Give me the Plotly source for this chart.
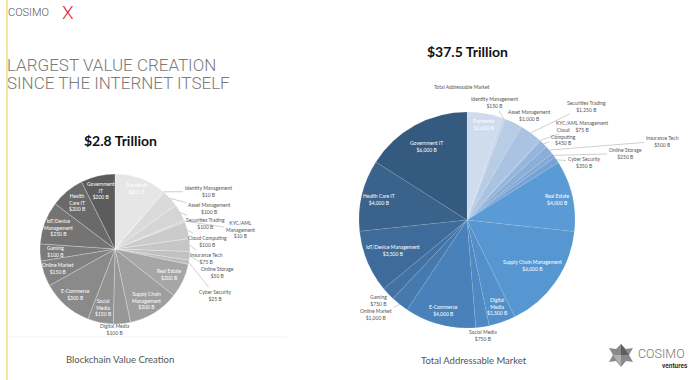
import math
import plotly.graph_objects as go

# ---------------- data ----------------
categories = ["Payments", "Identity Management", "Asset Management", "Securities Trading",
              "KYC/AML Management", "Cloud Computing", "Insurance Tech", "Online Storage",
              "Cyber Security", "Real Estate", "Supply Chain Management", "Digital Media",
              "Social Media", "E-Commerce", "Online Market", "Gaming",
              "IoT/Device Management", "Health Care IT", "Government IT"]

blockchain_values = [300, 10, 100, 100, 10, 100, 75, 50, 25, 200, 300, 100, 150, 300, 150, 100, 250, 200, 200]
tam_values = [2000, 150, 1000, 1250, 75, 450, 500, 250, 350, 4000, 6000, 1500, 750, 4000, 1000, 750, 3500, 4000, 6000]

blockchain_text = ["Payments", "Identity Management", "Asset Management", "Securities Trading",
                   "KYC/AML<br>Management", "Cloud Computing", "Insurance Tech", "Online Storage",
                   "Cyber Security", "Real Estate", "Supply Chain<br>Management", "Digital Media",
                   "Social<br>Media", "E-Commerce", "Online Market", "Gaming",
                   "IoT/Device<br>Management", "Health<br>Care IT", "Government<br>IT"]
tam_text = ["Payments", "Identity Management", "Asset Management", "Securities Trading",
            "KYC/AML Management", "Cloud<br>Computing", "Insurance Tech", "Online Storage",
            "Cyber Security", "Real Estate", "Supply Chain Management", "Digital<br>Media",
            "Social Media", "E-Commerce", "Online Market", "Gaming",
            "IoT/Device Management", "Health Care IT", "Government IT"]

# label placement: float = inside slice at that fraction of the radius,
# (x, y) px = outside label position joined to the slice by a leader line
blockchain_label_pos = [0.86, (208, 191.5), (209, 208.5), (205, 223.5), (240, 229.5), (208, 241),
                        (206, 258), (217, 272), (215, 295), 0.8, 0.8, (115, 329),
                        0.8, 0.8, 0.8, 0.8, 0.8, 0.8, 0.8]
tam_label_pos = [0.9, (494, 103), (529, 115), (586, 106), (582, 126), (563, 137),
                 (662, 141), (625, 153.5), (584, 162), 0.86, 0.74, 0.85,
                 (483, 335), 0.87, (376, 314.5), (378, 300), 0.74, 0.84, 0.78]

grey_colors = ["#e6e6e6", "#e0e0e0", "#dadada", "#d5d5d5", "#d0d0d0", "#cbcbcb", "#c6c6c6", "#c1c1c1",
               "#bcbcbc", "#a6a6a6", "#9e9e9e", "#979797", "#919191", "#8a8a8a", "#828282", "#7b7b7b",
               "#747474", "#6a6a6a", "#5c5c5c"]
blue_colors = ["#cfdcee", "#c5d5ea", "#b8cce6", "#abc3e2", "#a0bcdf", "#95b5dc", "#8baed9", "#81a8d7",
               "#76a2d6", "#5b9bd5", "#5797d1", "#538fc8", "#4f89c1", "#4982bb", "#4679ad", "#4272a3",
               "#3e6b99", "#3a638c", "#355a7f"]

W, H = 700, 380
def px(x): return x / W
def py(y): return 1 - y / H

# pie domains in px: (left, top, size)
left_dom = (40, 174, 150)
right_dom = (359, 112, 216)

fig = go.Figure()
ann = []

def add_pie(values, colors, dom, line_col, line_w):
    x0, y0, s = dom
    fig.add_trace(go.Pie(
        labels=categories, values=values, textinfo="none",
        sort=False, direction="clockwise", rotation=0,
        marker=dict(colors=colors, line=dict(color=line_col, width=line_w)),
        domain=dict(x=[px(x0), px(x0 + s)], y=[py(y0 + s), py(y0)]),
        showlegend=False, hoverinfo="label+value"))

def add_labels(values, texts, label_pos, dom):
    x0, y0, s = dom
    cx, cy, r = x0 + s / 2, y0 + s / 2, s / 2
    total = sum(values)
    cum = 0
    for v, t, pos in zip(values, texts, label_pos):
        mid = 2 * math.pi * (cum + v / 2) / total
        cum += v
        s_txt = "%s<br>$%s B" % (t, format(v, ","))
        if not isinstance(pos, tuple):
            lx = cx + pos * r * math.sin(mid)
            ly = cy - pos * r * math.cos(mid)
            ann.append(dict(x=px(lx), y=py(ly), xref="paper", yref="paper", text=s_txt,
                            showarrow=False, xanchor="center", yanchor="middle",
                            font=dict(family="Lato", size=5, color="white")))
        else:
            hx = cx + r * math.sin(mid)
            hy = cy - r * math.cos(mid)
            ann.append(dict(x=px(hx), y=py(hy), xref="paper", yref="paper", text=s_txt,
                            showarrow=True, arrowhead=0, arrowwidth=0.5, arrowcolor="#a0a0a0",
                            standoff=0, ax=pos[0] - hx, ay=pos[1] - hy,
                            xanchor="center", yanchor="middle",
                            font=dict(family="Lato", size=5, color="#555555")))

add_pie(blockchain_values, grey_colors, left_dom, "rgba(255,255,255,0.5)", 0.5)
add_pie(tam_values, blue_colors, right_dom, "rgba(255,255,255,0.3)", 0.3)
add_labels(blockchain_values, blockchain_text, blockchain_label_pos, left_dom)
add_labels(tam_values, tam_text, tam_label_pos, right_dom)

def txt(x, y, s, size, color, family="Lato", xanchor="center", weight=None):
    f = dict(family=family, size=size, color=color)
    if weight is not None:
        f["weight"] = weight
    ann.append(dict(x=px(x), y=py(y), xref="paper", yref="paper", text=s, showarrow=False,
                    xanchor=xanchor, yanchor="middle", font=f))

txt(6, 13, "COSIMO", 11, "#555555", family="Roboto", xanchor="left", weight=300)
txt(60, 12.5, "X", 19, "#e8242a", family="Roboto", xanchor="left", weight=300)
txt(5, 64.5, "LARGEST VALUE CREATION", 17, "#7a7a7a", family="Roboto", xanchor="left", weight=300)
txt(5, 83, "SINCE THE INTERNET ITSELF", 17, "#7a7a7a", family="Roboto", xanchor="left", weight=300)
txt(120, 140.5, "<b>$2.8 Trillion</b>", 14, "#111111")
txt(467, 51.5, "<b>$37.5 Trillion</b>", 14, "#111111")
txt(462, 87, "Total Addressable Market", 5, "#555555")
txt(119.5, 359.5, "Blockchain Value Creation", 9.5, "#555555")
txt(474, 360.5, "Total Addressable Market", 9.5, "#555555")
txt(636, 353.5, "COSIMO", 12.5, "#777777", family="Roboto", xanchor="left", weight=300)
txt(690, 366, "<b>ventures</b>", 6.5, "#333333", family="Roboto", xanchor="right")

shapes = [
    dict(type="line", xref="paper", yref="paper", x0=px(7), x1=px(7), y0=0, y1=1,
         line=dict(color="#f0d264", width=1.2)),
    dict(type="line", xref="paper", yref="paper", x0=px(8), x1=px(287), y0=py(337), y1=py(337),
         line=dict(color="#f3f3f3", width=1)),
    # logo star
    dict(type="path", xref="paper", yref="paper",
         path="M %f %f L %f %f L %f %f L %f %f L %f %f L %f %f L %f %f L %f %f L %f %f L %f %f L %f %f L %f %f Z" % (
             px(621), py(344), px(626), py(349), px(633), py(348), px(629), py(355),
             px(633), py(362), px(626), py(361), px(621), py(367), px(616), py(361),
             px(609), py(362), px(613), py(355), px(609), py(348), px(616), py(349)),
         fillcolor="#8a8a8a", line=dict(width=0)),
    dict(type="path", xref="paper", yref="paper",
         path="M %f %f L %f %f L %f %f Z" % (px(621), py(344), px(629), py(355), px(621), py(355)),
         fillcolor="#5e5e5e", line=dict(width=0)),
    dict(type="path", xref="paper", yref="paper",
         path="M %f %f L %f %f L %f %f Z" % (px(613), py(355), px(621), py(367), px(621), py(355)),
         fillcolor="#b0b0b0", line=dict(width=0)),
]

fig.update_layout(width=W, height=H, margin=dict(l=0, r=0, t=0, b=0),
                  paper_bgcolor="white", plot_bgcolor="white",
                  annotations=ann, shapes=shapes)

fig.write_html("out.html", config={"displayModeBar": False},
               post_script="document.body.style.margin='0';")
